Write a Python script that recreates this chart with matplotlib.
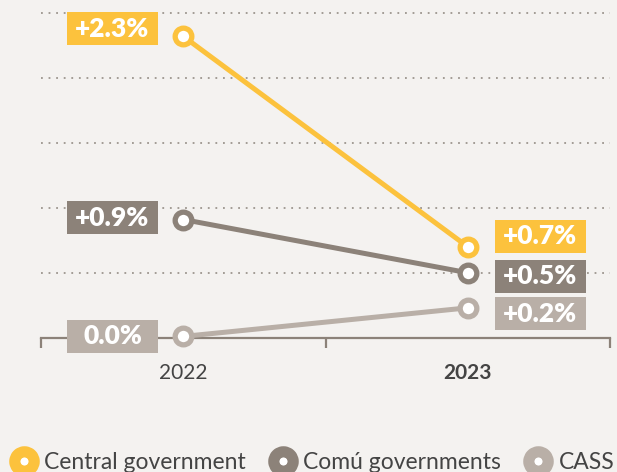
import matplotlib.pyplot as plt
from matplotlib.lines import Line2D
from matplotlib.patches import Rectangle

plt.rcParams['font.family'] = ['Lato', 'DejaVu Sans']

# data
years = ['2022', '2023']
series_names = ['Central government', 'Comú governments', 'CASS']
central = [2.32, 0.70]
comu = [0.91, 0.50]
cass = [0.01, 0.23]
label_text = [['+2.3%', '+0.7%'], ['+0.9%', '+0.5%'], ['0.0%', '+0.2%']]

colors = ['#FCC23D', '#8C8279', '#B9AFA7']
bg = '#F4F2F0'
# vertical nudges for the value boxes (data units) so they don't collide
label_nudge = [[0.06, 0.08], [0.015, -0.025], [0.0, -0.045]]

fig = plt.figure(figsize=(6.17, 4.72), dpi=100, facecolor=bg)
ax = fig.add_axes([0.0665, 0.2845, 0.9222, 0.688])
ax.set_facecolor(bg)
ax.set_xlim(0, 2)
ax.set_ylim(0, 2.5)

xpos = [0.5, 1.5]
for yv in [0.5, 1.0, 1.5, 2.0, 2.5]:
    ax.axhline(yv, color='#9C958E', lw=1.3, ls=(0, (1, 3.2)), zorder=1, clip_on=False)

all_series = [central, comu, cass]
box_w, box_h = 0.32, 0.254
for i, vals in enumerate(all_series):
    ax.plot(xpos, vals, color=colors[i], lw=3.6, marker='o', ms=12, mew=3.8,
            mfc='white', mec=colors[i], zorder=5 - i * 0.1 + 1, clip_on=False)
    for j in range(2):
        cx = 0.251 if j == 0 else 1.754
        cy = vals[j] + label_nudge[i][j]
        ax.add_patch(Rectangle((cx - box_w / 2, cy - box_h / 2), box_w, box_h,
                               facecolor=colors[i], edgecolor='none', zorder=7, clip_on=False))
        ax.text(cx, cy, label_text[i][j], color='white', fontsize=19, fontweight='heavy',
                ha='center', va='center', zorder=8, clip_on=False)

for s in ['top', 'left', 'right']:
    ax.spines[s].set_visible(False)
ax.spines['bottom'].set_color('#8C8279')
ax.spines['bottom'].set_linewidth(1.6)
ax.set_yticks([])
ax.set_xticks([0, 1, 2])
ax.set_xticklabels([])
ax.tick_params(axis='x', which='major', length=7, width=1.6, color='#8C8279', direction='out')
ax.set_xticks(xpos, minor=True)
ax.set_xticklabels(years, minor=True)
ax.tick_params(axis='x', which='minor', length=0, pad=18, labelsize=15, labelcolor='#444444')
ax.get_xticklabels(minor=True)[1].set_fontweight('bold')

handles = [Line2D([], [], ls='none', marker='o', ms=14, mew=8, mfc='white', mec=c)
           for c in colors]
fig.legend(handles, series_names, loc='center left', bbox_to_anchor=(0.016, 0.021),
           ncol=3, frameon=False, fontsize=16.5, handlelength=1.2, handletextpad=0.3,
           columnspacing=1.0, borderpad=0, borderaxespad=0, labelcolor='#444444')

fig.savefig('out.png', dpi=100, facecolor=bg)
